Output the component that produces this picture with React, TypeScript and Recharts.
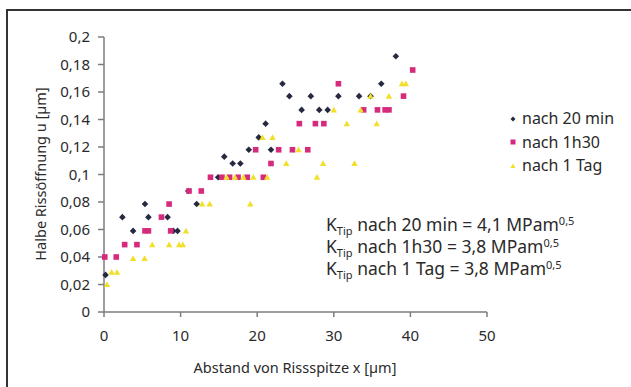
import React from 'react';
import { ScatterChart, Scatter, XAxis, YAxis, Label } from 'recharts';

// ---- data ----
const x20 = [0.2, 2.4, 3.8, 5.35, 5.8, 8.3, 9.05, 9.6, 11.0, 12.1, 14.9, 15.7, 16.8, 17.8, 18.9, 20.2, 21.1, 21.8, 23.3, 24.2, 25.8, 27.0, 28.1, 29.2, 30.6, 33.3, 34.8, 36.2, 38.1];
const y20 = [0.027, 0.069, 0.059, 0.0785, 0.069, 0.069, 0.059, 0.059, 0.088, 0.0785, 0.098, 0.113, 0.108, 0.108, 0.118, 0.127, 0.137, 0.118, 0.166, 0.157, 0.147, 0.157, 0.147, 0.147, 0.157, 0.157, 0.157, 0.166, 0.186];

const x1h = [0.1, 1.6, 2.7, 4.3, 5.35, 5.8, 7.5, 8.5, 8.7, 11.1, 12.7, 13.9, 15.4, 16.4, 17.5, 18.7, 20.8, 19.8, 21.8, 22.8, 24.6, 26.6, 25.5, 27.6, 28.7, 30.6, 33.9, 35.7, 36.7, 37.2, 39.1, 40.3];
const y1h = [0.040, 0.040, 0.049, 0.049, 0.059, 0.059, 0.069, 0.0785, 0.059, 0.088, 0.088, 0.098, 0.098, 0.098, 0.098, 0.098, 0.098, 0.118, 0.108, 0.118, 0.118, 0.118, 0.137, 0.137, 0.137, 0.166, 0.147, 0.147, 0.147, 0.147, 0.157, 0.176];

const x1t = [0.4, 1.0, 1.7, 3.8, 5.3, 6.3, 8.5, 9.8, 10.3, 10.7, 12.8, 13.8, 16.0, 17.1, 18.2, 19.5, 21.3, 19.1, 20.7, 22.0, 23.8, 25.4, 27.8, 28.6, 30.0, 31.7, 32.7, 33.5, 34.8, 35.6, 37.2, 38.9, 39.4];
const y1t = [0.020, 0.029, 0.029, 0.039, 0.039, 0.049, 0.049, 0.049, 0.049, 0.059, 0.0785, 0.0785, 0.098, 0.098, 0.098, 0.098, 0.098, 0.0785, 0.127, 0.127, 0.108, 0.118, 0.098, 0.108, 0.147, 0.137, 0.108, 0.147, 0.157, 0.137, 0.157, 0.166, 0.166];

const seriesNames = ['nach 20 min', 'nach 1h30', 'nach 1 Tag'];
const xTicks = [0, 10, 20, 30, 40, 50];
const yTicks = [0, 0.02, 0.04, 0.06, 0.08, 0.1, 0.12, 0.14, 0.16, 0.18, 0.2];
const kLines = [
  { label: 'nach 20 min', value: '4,1' },
  { label: 'nach 1h30', value: '3,8' },
  { label: 'nach 1 Tag', value: '3,8' },
];

const COLORS = ['#262a40', '#d62a7c', '#f2df2a'];
const FONT = '"Noto Sans", sans-serif';
const TEXT = '#2a2a2a';
const AXIS = '#7d7d7d';

const pts = (xs: number[], ys: number[]) => xs.map((x, i) => ({ x, y: ys[i] }));
const d20 = pts(x20, y20);
const d1h = pts(x1h, y1h);
const d1t = pts(x1t, y1t);

const Diamond = (p: any) => {
  const { cx, cy } = p;
  return <path d={`M${cx},${cy - 3.3} L${cx + 3.3},${cy} L${cx},${cy + 3.3} L${cx - 3.3},${cy} Z`} fill={COLORS[0]} />;
};
const Square = (p: any) => {
  const { cx, cy } = p;
  return <rect x={cx - 2.8} y={cy - 2.8} width={5.6} height={5.6} fill={COLORS[1]} />;
};
const Tri = (p: any) => {
  const { cx, cy } = p;
  return <path d={`M${cx},${cy - 3.2} L${cx + 3.2},${cy + 2.5} L${cx - 3.2},${cy + 2.5} Z`} fill={COLORS[2]} />;
};

const fmtY = (v: number) => (v === 0 ? '0' : String(+v.toFixed(2)).replace('.', ','));

const LegendBox = () => (
  <div style={{ position: 'absolute', left: 508, top: 107, fontFamily: FONT, fontSize: 16, color: TEXT, lineHeight: '23.5px' }}>
    {seriesNames.map((n, i) => (
      <div key={n} style={{ display: 'flex', alignItems: 'center', height: 23.5 }}>
        <svg width={10} height={10} style={{ marginRight: 4 }}>
          {i === 0 && <path d="M5,2.5 L7.5,5 L5,7.5 L2.5,5 Z" fill={COLORS[0]} />}
          {i === 1 && <rect x={2.5} y={2.5} width={5} height={5} fill={COLORS[1]} />}
          {i === 2 && <path d="M5,2.5 L7.5,7 L2.5,7 Z" fill={COLORS[2]} />}
        </svg>
        <span>{n}</span>
      </div>
    ))}
  </div>
);

export default function App() {
  return (
    <div style={{ position: 'absolute', left: 0, top: 0, width: 631, height: 387, background: '#fff', overflow: 'hidden' }}>
      <div style={{ position: 'absolute', left: 6, top: 9, width: 640, height: 400, borderTop: '2px solid #333', borderLeft: '2px solid #333' }} />
      <ScatterChart width={631} height={387} margin={{ top: 37, right: 144, bottom: 0, left: 0 }}>
        <XAxis
          type="number"
          dataKey="x"
          domain={[0, 50]}
          ticks={xTicks}
          interval={0}
          height={75}
          axisLine={{ stroke: AXIS, strokeWidth: 1.5 }}
          tickLine={{ stroke: AXIS, strokeWidth: 1.5 }}
          tickSize={5}
          tickMargin={13}
          tick={{ fill: TEXT, fontSize: 15, fontFamily: FONT }}
        >
          <Label
            content={() => (
              <text x={295} y={367} textAnchor="middle" dominantBaseline="central" fill={TEXT} fontSize={14.5} fontFamily={FONT}>
                Abstand von Rissspitze x [µm]
              </text>
            )}
          />
        </XAxis>
        <YAxis
          type="number"
          dataKey="y"
          domain={[0, 0.2]}
          ticks={yTicks}
          interval={0}
          width={104}
          tickFormatter={fmtY}
          axisLine={{ stroke: AXIS, strokeWidth: 1.5 }}
          tickLine={{ stroke: AXIS, strokeWidth: 1.5 }}
          tickSize={6}
          tickMargin={8}
          tick={{ fill: TEXT, fontSize: 15, fontFamily: FONT }}
        >
          <Label
            content={() => (
              <text x={40} y={174} transform="rotate(-90 40 174)" textAnchor="middle" dominantBaseline="central" fill={TEXT} fontSize={14.5} fontFamily={FONT}>
                Halbe Rissöffnung u [µm]
              </text>
            )}
          />
        </YAxis>
        <Scatter name={seriesNames[0]} data={d20} shape={Diamond} isAnimationActive={false} />
        <Scatter name={seriesNames[1]} data={d1h} shape={Square} isAnimationActive={false} />
        <Scatter name={seriesNames[2]} data={d1t} shape={Tri} isAnimationActive={false} />
      </ScatterChart>
      <LegendBox />
      <div style={{ position: 'absolute', left: 326, top: 213, fontFamily: FONT, fontSize: 17.5, color: TEXT, whiteSpace: 'nowrap' }}>
        {kLines.map((k) => (
          <div key={k.label} style={{ height: 22, lineHeight: '22px' }}>
            K<span style={{ fontSize: 11, position: 'relative', top: 4 }}>Tip</span> {k.label} = {k.value} MPam
            <span style={{ fontSize: 11, position: 'relative', top: -6 }}>0,5</span>
          </div>
        ))}
      </div>
    </div>
  );
}
